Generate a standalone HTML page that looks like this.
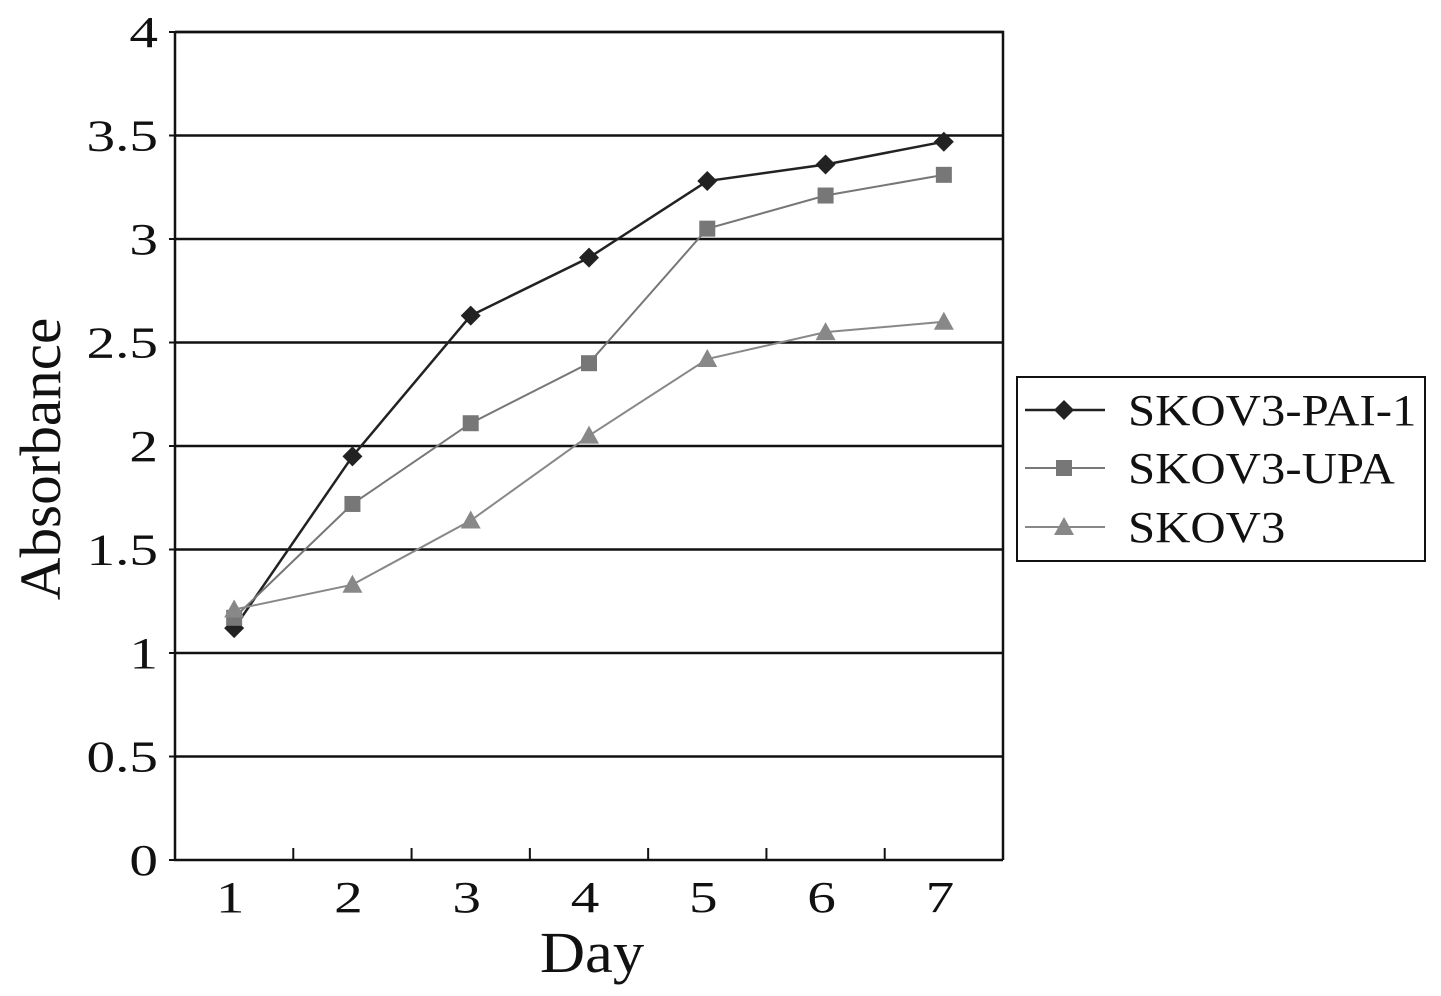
<!DOCTYPE html>
<html><head><meta charset="utf-8"><style>
html,body{margin:0;padding:0;background:#fff;}
svg{display:block;font-family:"Liberation Serif",serif;}
</style></head><body>
<svg id="chart" width="1441" height="996" viewBox="0 0 1441 996" xmlns="http://www.w3.org/2000/svg"></svg>
<script>
const categories = ["1","2","3","4","5","6","7"];
const yTicks = [0,0.5,1,1.5,2,2.5,3,3.5,4];
const yTickLabels = ["0","0.5","1","1.5","2","2.5","3","3.5","4"];
const seriesNames = ["SKOV3-PAI-1","SKOV3-UPA","SKOV3"];
const pai1 = [1.12,1.95,2.63,2.91,3.28,3.36,3.47];
const upa = [1.17,1.72,2.11,2.40,3.05,3.21,3.31];
const skov3 = [1.21,1.33,1.64,2.05,2.42,2.55,2.60];

const svg = document.getElementById('chart');
const NS = 'http://www.w3.org/2000/svg';
const L=175,R=1003,T=32,B=860,ymax=4;
const step=(R-L)/categories.length;
function xs(i){return L+step*(i+0.5);}
function ys(v){return B-(v/ymax)*(B-T);}
function mk(tag,attrs,parent){const e=document.createElementNS(NS,tag);for(const k in attrs)e.setAttribute(k,attrs[k]);(parent||svg).appendChild(e);return e;}

yTicks.forEach((v,i)=>{
  const y=ys(v);
  if(v>0){const g=mk('line',{x1:L,x2:R,y1:y,y2:y,stroke:'#111','stroke-width':2.5});
  
  }
  const tk=mk('line',{x1:L-6,x2:L,y1:y,y2:y,stroke:'#111','stroke-width':2});
  
  
  const t=mk('text',{x:0,y:0,'text-anchor':'end','font-size':44,fill:'#111',transform:`translate(158,${y+15}) scale(1.3,1)`});
  t.textContent=yTickLabels[i];
  
  
});
const fr=mk('path',{d:`M${L},${T}H${R}V${B}M${L},${T}V${B}H${R}`,fill:'none',stroke:'#111','stroke-width':2.5});


for(let i=0;i<=categories.length;i++){
  const x=L+step*i;
  const tk=mk('line',{x1:x,x2:x,y1:B,y2:B-12,stroke:'#111','stroke-width':2});
  
  
}
categories.forEach((c,i)=>{
  const t=mk('text',{x:0,y:0,'text-anchor':'middle','font-size':44,fill:'#111',transform:`translate(${xs(i)-4},912) scale(1.3,1)`});
  t.textContent=c;
  
  
});
const xt=mk('text',{x:0,y:0,'text-anchor':'middle','font-size':58,fill:'#111',transform:'translate(592,972) scale(1.08,1)'});
xt.textContent='Day';


const yt=mk('text',{x:0,y:0,'text-anchor':'middle','font-size':58,fill:'#111',transform:'translate(60,459) rotate(-90) scale(1.02,1)'});
yt.textContent='Absorbance';



function marker(kind,x,y,color,g){
  if(kind==='d') return mk('polygon',{points:`${x},${y-10} ${x+10},${y} ${x},${y+10} ${x-10},${y}`,fill:color},g);
  if(kind==='s') return mk('rect',{x:x-8,y:y-8,width:16,height:16,fill:color},g);
  return mk('polygon',{points:`${x},${y-10} ${x+10},${y+8} ${x-10},${y+8}`,fill:color},g);
}
const series=[[pai1,'#222','d',2.5],[upa,'#777','s',2],[skov3,'#888','t',2]];
series.forEach(([vals,color,kind,w],si)=>{
  const g=mk('g',{});
  
  
  mk('polyline',{points:vals.map((v,i)=>xs(i)+','+ys(v)).join(' '),fill:'none',stroke:color,'stroke-width':w},g);
  vals.forEach((v,i)=>{
    const m=marker(kind,xs(i),ys(v),color,g);
    
    
  });
});
const lg=mk('g',{});


mk('rect',{x:1017,y:377,width:408,height:184,fill:'#fff',stroke:'#111','stroke-width':2},lg);
const ly=[410,468,527];
series.forEach(([vals,color,kind,w],si)=>{
  const e=mk('g',{},lg);
  
  
  mk('line',{x1:1025,x2:1105,y1:ly[si],y2:ly[si],stroke:color,'stroke-width':w},e);
  marker(kind,1064,ly[si],color,e);
  const t=mk('text',{x:0,y:0,'font-size':44,fill:'#111',transform:`translate(1128,${ly[si]+15}) scale(1.11,1)`},e);
  t.textContent=seriesNames[si];
});
</script>
</body></html>
